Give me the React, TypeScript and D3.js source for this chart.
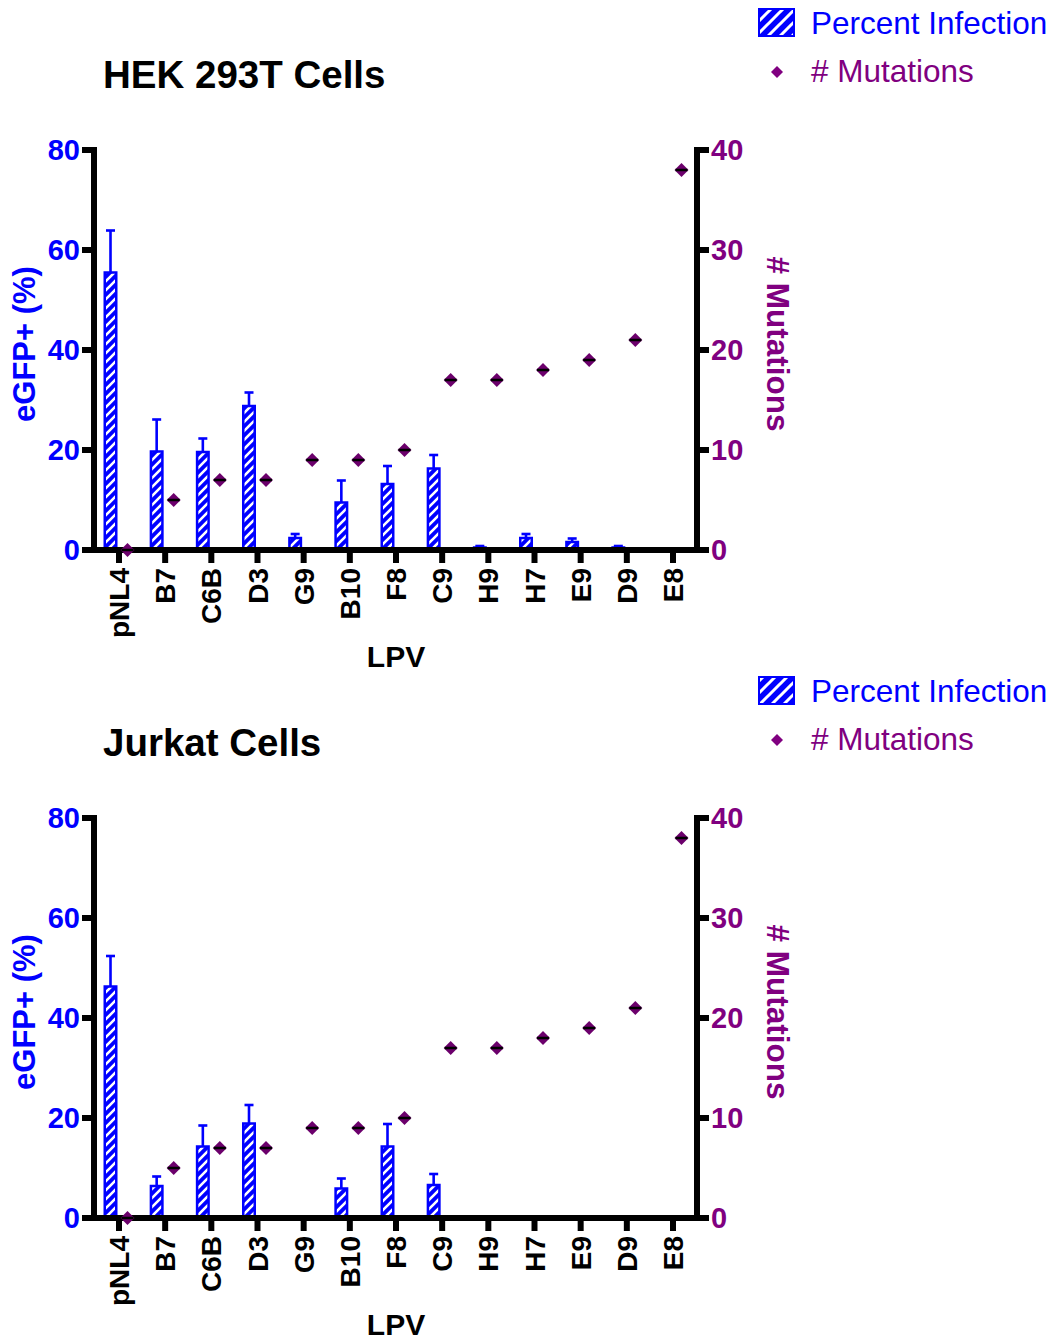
import React from 'react';
import * as d3 from 'd3';

// LPV clones along the x axis
const categories = ['pNL4', 'B7', 'C6B', 'D3', 'G9', 'B10', 'F8', 'C9', 'H9', 'H7', 'E9', 'D9', 'E8'];
// number of mutations per clone (right axis)
const mutations = [0, 5, 7, 7, 9, 9, 10, 17, 17, 18, 19, 21, 38];
// percent eGFP+ cells (left axis) and their error (upper bar)
const hekInfection = [55.5, 19.7, 19.6, 28.8, 2.4, 9.5, 13.2, 16.3, 0.5, 2.4, 1.6, 0.5, 0.2];
const hekError = [8.4, 6.4, 2.7, 2.7, 0.8, 4.4, 3.6, 2.7, 0.3, 0.8, 0.7, 0.3, 0.1];
const jurkatInfection = [46.3, 6.4, 14.3, 18.9, 0, 5.9, 14.3, 6.6, 0, 0.2, 0, 0, 0];
const jurkatError = [6.1, 1.9, 4.2, 3.7, 0, 2.0, 4.5, 2.2, 0, 0, 0, 0, 0];
const leftTicks = [0, 20, 40, 60, 80];
const rightTicks = [0, 10, 20, 30, 40];

const BLUE = '#0000FF';
const PURPLE = '#800080';
const MARK = '#6C006C';
const FONT = 'Liberation Sans, Arial, Helvetica, sans-serif';

const W = 1055;
const H = 1343;
const AXIS_LEFT = 94;
const AXIS_RIGHT = 697;
const AXIS_W = 6;
const BAR_W = 14;
const OFFSET = 8.5;

const x = d3.scalePoint<string>().domain(categories).range([119, 673]);

const diamondPath = (r: number) => `M0,${-r}L${r},0L0,${r}L${-r},0Z`;

function Legend({ top }: { top: number }) {
  return (
    <g fontFamily={FONT}>
      <rect x={759} y={top + 9} width={35} height={27} fill="url(#hatchLegend)" stroke={BLUE} strokeWidth={2} />
      <text x={811} y={top + 34} fontSize={31.5} fill={BLUE}>Percent Infection</text>
      <path d={diamondPath(6)} transform={`translate(777,${top + 72})`} fill={PURPLE} />
      <text x={811} y={top + 82} fontSize={31.5} fill={PURPLE}>{'# Mutations'}</text>
    </g>
  );
}

function Panel({ title, values, errors, top }: { title: string; values: number[]; errors: number[]; top: number }) {
  const bottom = top + 400;
  const yL = d3.scaleLinear().domain([0, 80]).range([bottom, top]);
  const yR = d3.scaleLinear().domain([0, 40]).range([bottom, top]);

  return (
    <g fontFamily={FONT}>
      <Legend top={top - 150} />
      <text x={103} y={top - 62} fontSize={38.5} fontWeight="bold" fill="#000">{title}</text>

      {/* bars with upper error bars */}
      {categories.map((c, i) => {
        const v = values[i];
        if (v <= 0) return null;
        const cx = (x(c) as number) - OFFSET;
        const yTop = yL(v);
        const yErr = yL(v + errors[i]);
        return (
          <g key={c}>
            {errors[i] > 0 && (
              <g stroke={BLUE} strokeWidth={2.6}>
                <line x1={cx} x2={cx} y1={yTop} y2={yErr} />
                <line x1={cx - 4.5} x2={cx + 4.5} y1={yErr} y2={yErr} />
              </g>
            )}
            <rect
              x={cx - BAR_W / 2 + 1.25}
              y={yTop}
              width={BAR_W - 2.5}
              height={Math.max(bottom - yTop, 0.5)}
              fill="url(#hatchBar)"
              stroke={BLUE}
              strokeWidth={2.5}
            />
          </g>
        );
      })}

      {/* axes */}
      <g stroke="#000" strokeWidth={AXIS_W} fill="none">
        <line x1={AXIS_LEFT} x2={AXIS_LEFT} y1={top - AXIS_W / 2} y2={bottom + AXIS_W / 2} />
        <line x1={AXIS_RIGHT} x2={AXIS_RIGHT} y1={top - AXIS_W / 2} y2={bottom + AXIS_W / 2} />
        <line x1={AXIS_LEFT} x2={AXIS_RIGHT} y1={bottom} y2={bottom} />
        {leftTicks.map((t) => (
          <line key={'l' + t} x1={82} x2={AXIS_LEFT} y1={yL(t)} y2={yL(t)} />
        ))}
        {rightTicks.map((t) => (
          <line key={'r' + t} x1={AXIS_RIGHT} x2={709} y1={yR(t)} y2={yR(t)} />
        ))}
        {categories.map((c) => (
          <line key={'x' + c} x1={x(c)} x2={x(c)} y1={bottom} y2={bottom + 13} />
        ))}
      </g>

      {leftTicks.map((t) => (
        <text key={'lt' + t} x={80} y={yL(t)} dy="0.36em" textAnchor="end" fontSize={29} fontWeight="bold" fill={BLUE}>
          {t}
        </text>
      ))}
      {rightTicks.map((t) => (
        <text key={'rt' + t} x={711} y={yR(t)} dy="0.36em" textAnchor="start" fontSize={29} fontWeight="bold" fill={PURPLE}>
          {t}
        </text>
      ))}
      {categories.map((c) => (
        <text
          key={'xt' + c}
          transform={`translate(${x(c)},${bottom + 18}) rotate(-90)`}
          dy="0.36em"
          textAnchor="end"
          fontSize={28}
          fontWeight="bold"
          fill="#000"
        >
          {c}
        </text>
      ))}

      {/* axis titles */}
      <text transform={`translate(35,${(top + bottom) / 2 - 6}) rotate(-90)`} textAnchor="middle" fontSize={31} fontWeight="bold" fill={BLUE}>
        eGFP+ (%)
      </text>
      <text transform={`translate(767,${(top + bottom) / 2 - 6}) rotate(90)`} textAnchor="middle" fontSize={31.5} fontWeight="bold" fill={PURPLE}>
        {'# Mutations'}
      </text>
      <text x={396} y={bottom + 117} textAnchor="middle" fontSize={30} fontWeight="bold" fill="#000">LPV</text>

      {/* mutation counts */}
      {categories.map((c, i) => {
        const px = (x(c) as number) + OFFSET;
        const py = yR(mutations[i]);
        return (
          <g key={'m' + c} transform={`translate(${px},${py})`}>
            <path d={diamondPath(7)} fill={MARK} />
            <line x1={-6} x2={6} y1={0} y2={0} stroke="#000" strokeWidth={2.5} />
          </g>
        );
      })}
    </g>
  );
}

export default function App() {
  return (
    <svg width={W} height={H} style={{ position: 'absolute', left: 0, top: 0, background: '#fff' }}>
      <defs>
        <pattern id="hatchBar" patternUnits="userSpaceOnUse" width={9} height={9}>
          <rect width={9} height={9} fill={BLUE} />
          <path d="M-2,2 L2,-2 M0,9 L9,0 M7,11 L11,7" stroke="#fff" strokeWidth={2.6} />
        </pattern>
        <pattern id="hatchLegend" patternUnits="userSpaceOnUse" width={12} height={12}>
          <rect width={12} height={12} fill={BLUE} />
          <path d="M-3,3 L3,-3 M0,12 L12,0 M9,15 L15,9" stroke="#fff" strokeWidth={3} />
        </pattern>
      </defs>
      <rect width={W} height={H} fill="#fff" />
      <Panel title="HEK 293T Cells" values={hekInfection} errors={hekError} top={150} />
      <Panel title="Jurkat Cells" values={jurkatInfection} errors={jurkatError} top={818} />
    </svg>
  );
}
